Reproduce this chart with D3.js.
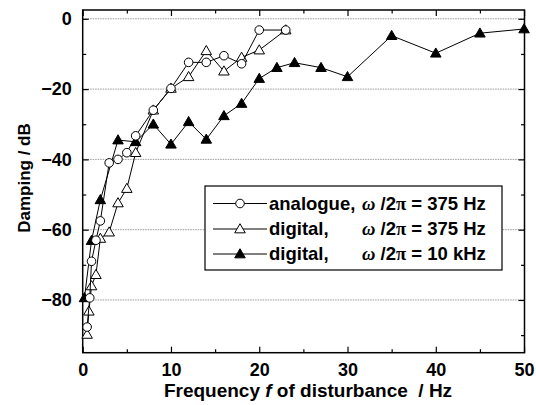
<!DOCTYPE html>
<html><head><meta charset="utf-8">
<script src="https://cdn.jsdelivr.net/npm/d3@7"></script>
<style>body{margin:0;background:#fff}svg{display:block}text{font-family:"Liberation Sans",Arial,sans-serif;font-weight:bold}</style>
</head><body>
<svg id="c" width="536" height="405"></svg>
<script>
const analogueX = [0.5,0.8,1,1.5,2,3,4,5,6,8,10,12,14,16,18,20,23];
const analogueY = [-87.7,-79.4,-69,-63,-57.5,-41,-40,-38.1,-33.3,-26,-19.8,-12.4,-12.4,-10.5,-12.8,-3.2,-3.2];
const digital375X = [0.5,0.7,1,1.5,2,3,4,5,6,8,10,12,14,16,18,20,23];
const digital375Y = [-89.8,-83.2,-76,-72.8,-62.5,-60.7,-52.4,-48.3,-38.1,-26,-19.8,-16.5,-9.1,-14.9,-11,-8.9,-3.2];
const digital10kX = [0.2,1,2,4,6,8,10,12,14,16,18,20,22,24,27,30,35,40,45,50];
const digital10kY = [-79.4,-63.1,-51.5,-34.5,-35,-30,-35.7,-29.3,-34.3,-27.6,-24.1,-17,-13.9,-12.5,-13.9,-16.5,-4.8,-9.8,-4.1,-2.9];
const xTicks = [0,10,20,30,40,50];
const yTicks = [0,-20,-40,-60,-80];
const legendLabels = [["analogue,","375 Hz"],["digital,","375 Hz"],["digital,","10 kHz"]];

const svg = d3.select("#c");
const L=82.7, R=524.5, T=10, B=352.7;
const x = d3.scaleLinear().domain([0,50.05]).range([L,R]);
const y = d3.scaleLinear().domain([-95,2.5]).range([B,T]);
const FONT = '"Liberation Sans",Arial,sans-serif';

// gridlines
svg.append("g").selectAll("line").data(yTicks).join("line")
  .attr("x1",L).attr("x2",R).attr("y1",d=>y(d)).attr("y2",d=>y(d))
  .attr("stroke","#999").attr("stroke-width",1).attr("stroke-dasharray","1.5,1");

function addAxis(gen, tr, labels){
  const g = svg.append("g").attr("transform",tr);
  g.call(gen);
  g.select(".domain").remove();
  g.selectAll(".tick line").attr("stroke","#000").attr("stroke-width",1.2);
  if(!labels) g.selectAll(".tick text").remove();
  else g.selectAll(".tick text").attr("fill","#000")
        .style("font-size","18px").style("font-family",FONT).style("font-weight","bold");
  return g;
}
const xMinor = d3.range(5,50,10);
const yMinor = d3.range(-90,0,20);
addAxis(d3.axisBottom(x).tickValues(xTicks).tickSize(-6).tickPadding(11).tickFormat(d3.format("d")),`translate(0,${B})`,true);
addAxis(d3.axisBottom(x).tickValues(xMinor).tickSize(-3.5).tickFormat(""),`translate(0,${B})`);
addAxis(d3.axisTop(x).tickValues(xTicks).tickSize(-6).tickFormat(""),`translate(0,${T})`);
addAxis(d3.axisTop(x).tickValues(xMinor).tickSize(-3.5).tickFormat(""),`translate(0,${T})`);
addAxis(d3.axisLeft(y).tickValues(yTicks).tickSize(-6).tickPadding(11).tickFormat(d3.format("d")),`translate(${L},0)`,true);
addAxis(d3.axisLeft(y).tickValues(yMinor).tickSize(-3.5).tickFormat(""),`translate(${L},0)`);
addAxis(d3.axisRight(y).tickValues(yTicks).tickSize(-6).tickFormat(""),`translate(${R},0)`);
addAxis(d3.axisRight(y).tickValues(yMinor).tickSize(-3.5).tickFormat(""),`translate(${R},0)`);

// frame
svg.append("rect").attr("x",L).attr("y",T).attr("width",R-L).attr("height",B-T)
  .attr("fill","none").attr("stroke","#000").attr("stroke-width",1.5);

const line = d3.line().x(d=>x(d[0])).y(d=>y(d[1]));
const triUp = d3.symbol().type(d3.symbolTriangle).size(48);
function drawMarker(g, cx, cy, kind){
  if(kind==="circle"){
    g.append("circle").attr("cx",cx).attr("cy",cy).attr("r",4.3).attr("fill","#fff").attr("stroke","#000").attr("stroke-width",1);
  } else {
    g.append("path").attr("d",triUp()).attr("transform",`translate(${cx},${cy+0.8})`)
      .attr("fill",kind==="filled"?"#000":"#fff").attr("stroke","#000").attr("stroke-width",1);
  }
}
function series(xs, ys, kind){
  const pts = xs.map((v,i)=>[v,ys[i]]);
  svg.append("path").datum(pts).attr("d",line).attr("fill","none").attr("stroke","#000").attr("stroke-width",1);
  const g = svg.append("g");
  pts.forEach(p=>drawMarker(g, x(p[0]), y(p[1]), kind));
}
series(digital10kX, digital10kY, "filled");
series(digital375X, digital375Y, "open");
series(analogueX, analogueY, "circle");

// legend
const lg = svg.append("g");
lg.append("rect").attr("x",205).attr("y",186).attr("width",297).attr("height",84)
  .attr("fill","#fff").attr("stroke","#000").attr("stroke-width",1.2);
const kinds = ["circle","open","filled"];
const rowsY = [203.5,229,254];
legendLabels.forEach((lab,i)=>{
  const ry = rowsY[i];
  lg.append("line").attr("x1",213).attr("x2",267).attr("y1",ry).attr("y2",ry).attr("stroke","#000").attr("stroke-width",1);
  drawMarker(lg, 240, ry, kinds[i]);
  lg.append("text").attr("x",269).attr("y",ry+6).style("font-size","18.5px").text(lab[0]);
  const t = lg.append("text").attr("x",362).attr("y",ry+6).style("font-size","18.5px");
  t.append("tspan").style("font-family","'Liberation Serif','Times New Roman',serif").style("font-style","italic").text("ω");
  t.append("tspan").text(" /2");
  t.append("tspan").style("font-family","'Liberation Serif','Times New Roman',serif").text("π");
  t.append("tspan").text(" = "+lab[1]);
});

// axis titles
const xt = svg.append("text").attr("x",308).attr("y",397).attr("text-anchor","middle")
  .style("font-size","19px").style("white-space","pre");
xt.append("tspan").text("Frequency ");
xt.append("tspan").style("font-style","italic").text("f");
xt.append("tspan").text(" of disturbance  / Hz");
svg.append("text").attr("transform","translate(30,178) rotate(-90)").attr("text-anchor","middle")
  .style("font-size","17px").text("Damping / dB");
</script>
</body></html>
